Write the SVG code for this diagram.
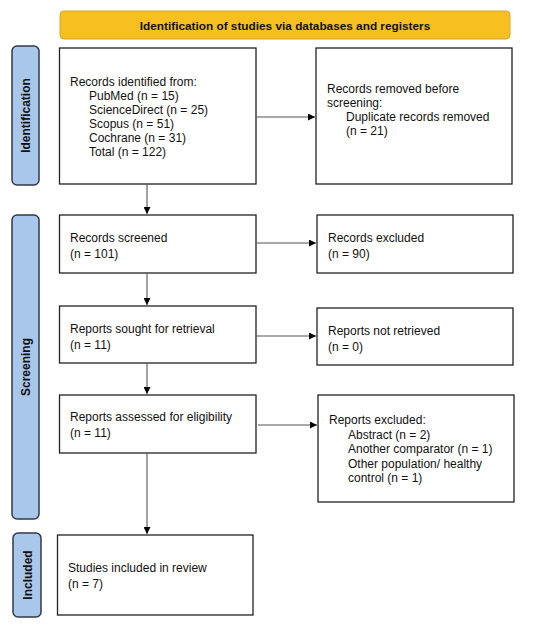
<svg xmlns="http://www.w3.org/2000/svg" width="550" height="625" viewBox="0 0 550 625">
<defs>
<marker id="ah" viewBox="0 0 10 10" refX="10" refY="5" markerWidth="7" markerHeight="7" markerUnits="userSpaceOnUse" orient="auto">
<path d="M0,0 L10,5 L0,10 z" fill="#000"/>
</marker>
<style>
.box{fill:#fff;stroke:#222;stroke-width:1.3}
.side{fill:#a9c7ea;stroke:#333a44;stroke-width:1.5}
.t{font-family:"Liberation Sans",Arial,sans-serif;font-size:12px;fill:#111}
.s{font-family:"Liberation Sans",Arial,sans-serif;font-size:12px;font-weight:bold;fill:#111}
.b{font-family:"Liberation Sans",Arial,sans-serif;font-size:11.8px;font-weight:bold;fill:#111}
.c{fill:none;stroke:#555;stroke-width:1.1;marker-end:url(#ah)}
</style>
</defs>
<rect width="550" height="625" fill="#fff"/>
<g id="banner">
<rect x="60" y="11" width="450" height="28" rx="4" fill="#f7bf1f" stroke="#d8a62a" stroke-width="1"/>
<text class="b" x="285" y="29.5" text-anchor="middle">Identification of studies via databases and registers</text>
</g>
<g id="side-identification">
<rect class="side" x="12" y="46" width="27" height="139" rx="5"/>
<text class="s" transform="translate(30,115.5) rotate(-90)" text-anchor="middle">Identification</text>
</g>
<g id="side-screening">
<rect class="side" x="12" y="215" width="27" height="304" rx="5"/>
<text class="s" transform="translate(30,367) rotate(-90)" text-anchor="middle">Screening</text>
</g>
<g id="side-included">
<rect class="side" x="13" y="533" width="28" height="84" rx="5"/>
<text class="s" transform="translate(31.5,575) rotate(-90)" text-anchor="middle">Included</text>
</g>
<g id="records-identified">
<rect class="box" x="59.5" y="48" width="196.5" height="136"/>
<text class="t" x="70" y="86">Records identified from:<tspan x="89" dy="14">PubMed (n = 15)</tspan><tspan x="89" dy="14">ScienceDirect (n = 25)</tspan><tspan x="89" dy="14">Scopus (n = 51)</tspan><tspan x="89" dy="14">Cochrane (n = 31)</tspan><tspan x="89" dy="14">Total (n = 122)</tspan></text>
</g>
<g id="records-removed">
<rect class="box" x="316" y="48" width="196" height="136"/>
<text class="t" x="327" y="93">Records removed before<tspan x="327" dy="14">screening:</tspan><tspan x="346" dy="14">Duplicate records removed</tspan><tspan x="346" dy="14">(n = 21)</tspan></text>
</g>
<g id="records-screened">
<rect class="box" x="59.5" y="215" width="196.5" height="58"/>
<text class="t" x="70" y="242">Records screened<tspan x="70" dy="16">(n = 101)</tspan></text>
</g>
<g id="records-excluded">
<rect class="box" x="317" y="215" width="196" height="58"/>
<text class="t" x="328" y="242">Records excluded<tspan x="328" dy="16">(n = 90)</tspan></text>
</g>
<g id="reports-sought">
<rect class="box" x="59.5" y="306" width="196.5" height="57"/>
<text class="t" x="70" y="333">Reports sought for retrieval<tspan x="70" dy="16">(n = 11)</tspan></text>
</g>
<g id="reports-not-retrieved">
<rect class="box" x="317" y="308" width="196" height="57"/>
<text class="t" x="328" y="335">Reports not retrieved<tspan x="328" dy="16">(n = 0)</tspan></text>
</g>
<g id="reports-assessed">
<rect class="box" x="59.5" y="395" width="196.5" height="58"/>
<text class="t" x="70" y="421">Reports assessed for eligibility<tspan x="70" dy="16">(n = 11)</tspan></text>
</g>
<g id="reports-excluded">
<rect class="box" x="318" y="395" width="196" height="107"/>
<text class="t" x="329" y="424">Reports excluded:<tspan x="348" dy="14.5">Abstract (n = 2)</tspan><tspan x="348" dy="14.5">Another comparator (n = 1)</tspan><tspan x="348" dy="14.5">Other population/ healthy</tspan><tspan x="348" dy="14.5">control (n = 1)</tspan></text>
</g>
<g id="studies-included">
<rect class="box" x="57.5" y="535" width="195.5" height="80"/>
<text class="t" x="68" y="572">Studies included in review<tspan x="68" dy="16">(n = 7)</tspan></text>
</g>
<g id="connectors">
<path class="c" d="M256,117 H315"/>
<path class="c" d="M147,184 V214"/>
<path class="c" d="M256,243 H316"/>
<path class="c" d="M147,273 V305"/>
<path class="c" d="M256,336 H316"/>
<path class="c" d="M147,363 V394"/>
<path class="c" d="M258,425 H317"/>
<path class="c" d="M147,453 V534"/>
</g>
</svg>
